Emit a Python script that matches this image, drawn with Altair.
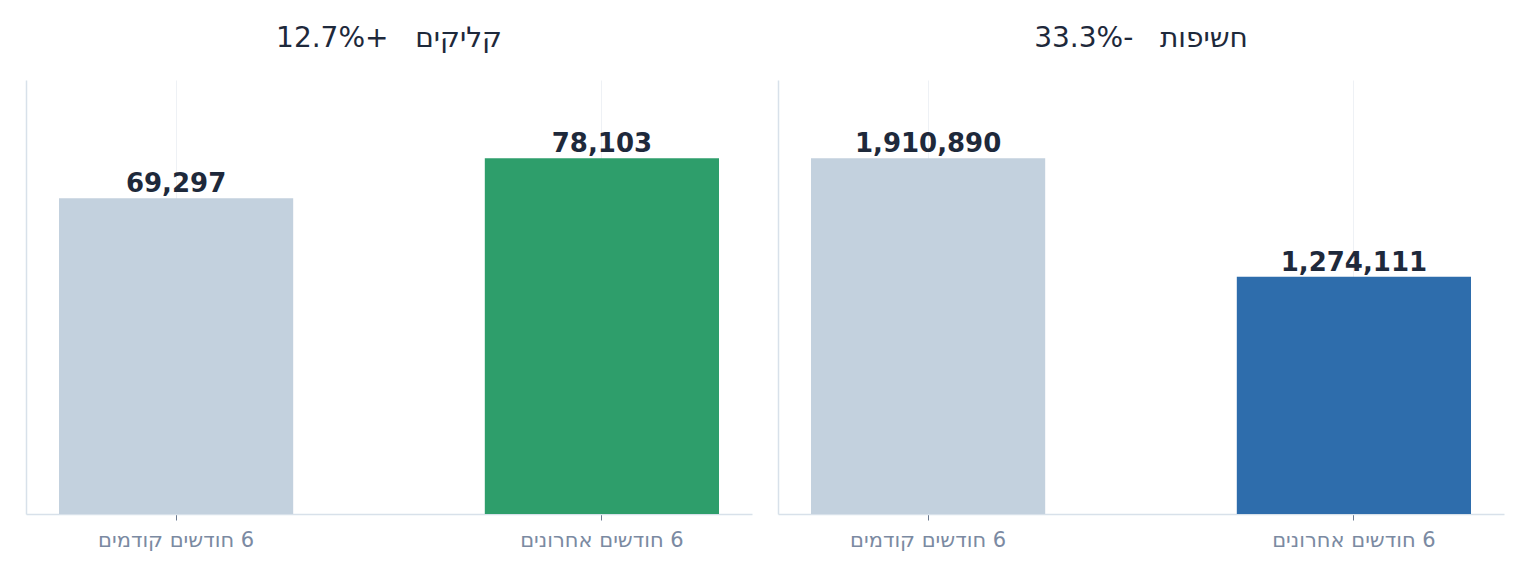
import altair as alt
import pandas as pd

# data
periods = ["6 חודשים קודמים", "6 חודשים אחרונים"]
clicks = [69297, 78103]
impressions = [1910890, 1274111]
titles = ["קליקים\u00a0\u00a0\u00a0+12.7%", "חשיפות\u00a0\u00a0\u00a0-33.3%"]

FONT = "DejaVu Sans"
GREY = "#c3d1de"
GREEN = "#2e9e6b"
BLUE = "#2e6dac"


def panel(values, title, colour):
    df = pd.DataFrame({"period": periods, "value": values})
    top = max(values) * 1.22

    x = alt.X("period:N", sort=periods, title=None,
              scale=alt.Scale(paddingInner=0.45, paddingOuter=0.0775),
              axis=alt.Axis(labelAngle=0, labelFontSize=21, labelColor="#7b8aa2",
                            labelFont=FONT, labelPadding=9, tickSize=6,
                            labelExpr="'\u200f' + datum.label",
                            tickColor="#6b7a90", grid=True, gridColor="#eef1f5",
                            domainColor="#d8e1ea", domainWidth=1.5))
    y = alt.Y("value:Q", title=None, scale=alt.Scale(domain=[0, top], nice=False),
              axis=alt.Axis(labels=False, ticks=False, grid=False,
                            domainColor="#d8e1ea", domainWidth=1.5))

    bars = alt.Chart(df).mark_bar().encode(
        x=x, y=y,
        color=alt.Color("period:N", legend=None,
                        scale=alt.Scale(domain=periods, range=[GREY, colour])),
    )
    labels = alt.Chart(df).mark_text(
        font=FONT, fontSize=26, fontWeight="bold", color="#1e293b",
        baseline="alphabetic", dy=-6,
    ).encode(x=x, y=y, text=alt.Text("value:Q", format=","))

    return (bars + labels).properties(
        width=726, height=434,
        title=alt.TitleParams(title, fontSize=28, fontWeight="normal", font=FONT,
                              color="#1e293b", anchor="middle", offset=27),
    )


chart = alt.hconcat(
    panel(clicks, titles[0], GREEN),
    panel(impressions, titles[1], BLUE),
    spacing=26,
).resolve_scale(y="independent", color="independent").properties(
    padding={"left": 18, "top": 17, "right": 5, "bottom": 5}
).configure_view(strokeWidth=0)

chart.save("out.html", embed_options={"renderer": "svg", "actions": False})
